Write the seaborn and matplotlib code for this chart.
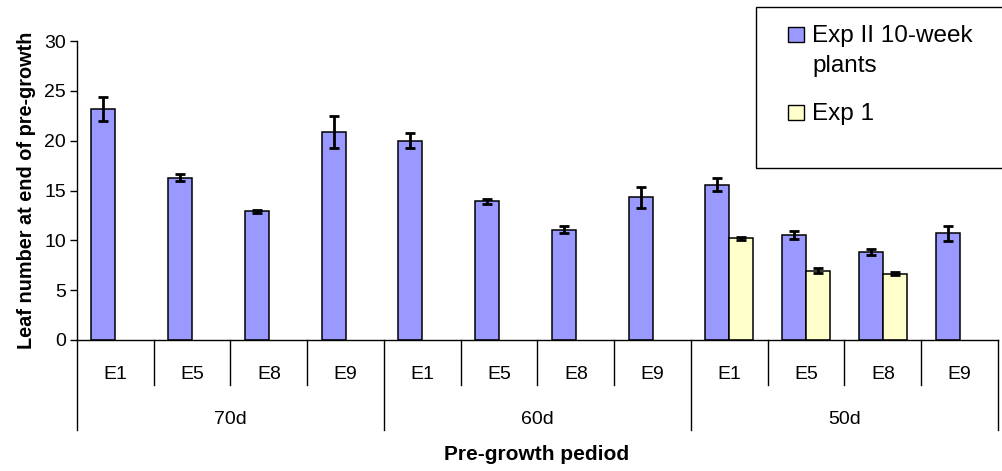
import numpy as np
import pandas as pd
import seaborn as sns
import matplotlib.pyplot as plt
from matplotlib.patches import Rectangle
import matplotlib.transforms as mtransforms

# dados
periodos = ['70d', '60d', '50d']
linhas = ['E1', 'E5', 'E8', 'E9']
serie_a = 'Exp II 10-week\nplants'
serie_b = 'Exp 1'

exp2_media = [23.2, 16.3, 12.9, 20.9,
              20.0, 13.9, 11.05, 14.3,
              15.6, 10.55, 8.85, 10.7]
exp2_erro = [1.2, 0.35, 0.15, 1.6,
             0.75, 0.25, 0.35, 1.1,
             0.65, 0.4, 0.3, 0.75]
exp1_cats = ['50d E1', '50d E5', '50d E8']
exp1_media = [10.2, 6.95, 6.65]
exp1_erro = [0.15, 0.25, 0.15]

azul = '#9999FF'
amarelo = '#FFFFCC'

cats = [f'{p} {l}' for p in periodos for l in linhas]
df = pd.concat([
    pd.DataFrame({'cat': cats, 'valor': exp2_media, 'erro': exp2_erro, 'serie': serie_a}),
    pd.DataFrame({'cat': exp1_cats, 'valor': exp1_media, 'erro': exp1_erro, 'serie': serie_b}),
], ignore_index=True)

plt.rcParams['font.family'] = ['Liberation Sans', 'DejaVu Sans']

fig = plt.figure(figsize=(10.03, 4.71), dpi=100)
ax = fig.add_axes([77 / 1003, 1 - 340 / 471, 921 / 1003, 299 / 471])

sns.barplot(data=df, x='cat', y='valor', hue='serie', order=cats,
            hue_order=[serie_a, serie_b], palette=[azul, amarelo], saturation=1,
            width=0.625, edgecolor='black', linewidth=1.1, errorbar=None,
            legend=False, ax=ax)

# barras de erro a partir das barras desenhadas
for cont, serie in zip(ax.containers, [serie_a, serie_b]):
    sub = df[df['serie'] == serie].set_index('cat')
    for bar in cont:
        xc = bar.get_x() + bar.get_width() / 2
        h = bar.get_height()
        if np.isnan(h):
            continue
        cat = cats[int(round(xc))]
        ax.errorbar(xc, h, yerr=sub.loc[cat, 'erro'], fmt='none',
                    ecolor='black', elinewidth=2, capsize=3.5, capthick=2, zorder=5)

ax.set_ylim(0, 30)
ax.set_xlim(-0.5, len(cats) - 0.5)
ax.set_yticks(range(0, 31, 5))
ax.tick_params(axis='y', direction='out', length=5, width=1, labelsize=14, pad=3)
ax.set_xticks(range(len(cats)))
ax.set_xticklabels(linhas * len(periodos), fontsize=14)
ax.tick_params(axis='x', length=0, pad=19)
for s in ['top', 'right']:
    ax.spines[s].set_visible(False)
ax.spines['left'].set_linewidth(1)
ax.spines['bottom'].set_linewidth(1)
ax.set_xlabel('')
ax.set_ylabel('Leaf number at end of pre-growth', fontsize=14.3, fontweight='bold', labelpad=6)

# eixo categorico em dois niveis
trans = mtransforms.blended_transform_factory(ax.transData, ax.transAxes)
curto = -45 / 299
longo = -90 / 299
for i in range(len(cats) + 1):
    fim = longo if i % len(linhas) == 0 else curto
    ax.plot([i - 0.5, i - 0.5], [0, fim], color='black', lw=1,
            transform=trans, clip_on=False)
for k, p in enumerate(periodos):
    centro = k * len(linhas) + (len(linhas) - 1) / 2
    ax.text(centro, -80 / 299, p, transform=trans, ha='center', va='center', fontsize=14)

fig.text(537 / 1003, 1 - 455 / 471, 'Pre-growth pediod', ha='center', va='center',
         fontsize=15, fontweight='bold')

# legenda (caixa do Excel, fixa no canto)
fig.patches.append(Rectangle((756 / 1003, 1 - 168 / 471), 260 / 1003, 161 / 471,
                             transform=fig.transFigure, fill=False, edgecolor='black',
                             linewidth=1, zorder=10))
for cor, rotulo, base in [(azul, serie_a, 42), (amarelo, serie_b, 120)]:
    fig.patches.append(Rectangle((788 / 1003, 1 - base / 471), 16 / 1003, 15 / 471,
                                 transform=fig.transFigure, facecolor=cor,
                                 edgecolor='black', linewidth=1, zorder=10))
    primeira = rotulo.split('\n')[0]
    fig.text(812 / 1003, 1 - base / 471, primeira, ha='left', va='baseline', fontsize=17.5)
    if '\n' in rotulo:
        fig.text(812 / 1003, 1 - (base + 30) / 471, rotulo.split('\n')[1],
                 ha='left', va='baseline', fontsize=17.5)

fig.savefig('out.png', dpi=100)
